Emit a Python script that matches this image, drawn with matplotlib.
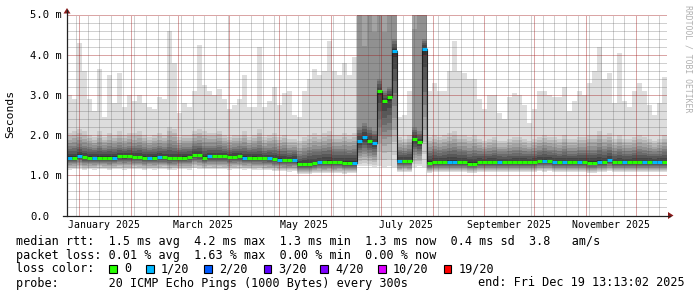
import numpy as np
import matplotlib
matplotlib.use("Agg")
import matplotlib.pyplot as plt
import matplotlib.dates as mdates
import matplotlib.transforms as mtransforms
from matplotlib.lines import Line2D
from matplotlib.patches import Polygon, Rectangle
from datetime import datetime, timedelta

# ---------------- data ----------------
period_start = datetime(2024, 12, 24, 13, 13, 2)
period_end = datetime(2025, 12, 19, 13, 13, 2)
bin_days = 3  # each value below covers 3 days

rtt_median = [
    1.44, 1.44, 1.49, 1.45, 1.44, 1.44, 1.44, 1.44, 1.44, 1.44,
    1.47, 1.47, 1.47, 1.46, 1.46, 1.44, 1.44, 1.44, 1.45, 1.45,
    1.42, 1.43, 1.44, 1.44, 1.45, 1.51, 1.50, 1.44, 1.47, 1.47,
    1.47, 1.47, 1.46, 1.46, 1.47, 1.44, 1.44, 1.44, 1.43, 1.42,
    1.42, 1.40, 1.39, 1.38, 1.38, 1.39, 1.27, 1.27, 1.28, 1.30,
    1.33, 1.33, 1.34, 1.33, 1.33, 1.31, 1.31, 1.31, 1.85, 1.95,
    1.85, 1.80, 3.10, 2.85, 2.95, 4.10, 1.35, 1.36, 1.35, 1.90,
    1.82, 4.15, 1.31, 1.33, 1.33, 1.33, 1.33, 1.33, 1.33, 1.33,
    1.29, 1.29, 1.33, 1.33, 1.33, 1.33, 1.33, 1.32, 1.32, 1.32,
    1.33, 1.33, 1.33, 1.33, 1.36, 1.36, 1.36, 1.33, 1.33, 1.33,
    1.33, 1.33, 1.33, 1.33, 1.31, 1.31, 1.33, 1.33, 1.37, 1.32,
    1.32, 1.32, 1.32, 1.33, 1.33, 1.33, 1.33, 1.33, 1.33, 1.33,
]

rtt_min = [
    1.14, 1.15, 1.16, 1.13, 1.15, 1.14, 1.16, 1.15, 1.13, 1.15,
    1.16, 1.14, 1.15, 1.16, 1.15, 1.13, 1.15, 1.14, 1.15, 1.16,
    1.13, 1.14, 1.15, 1.15, 1.14, 1.18, 1.16, 1.15, 1.16, 1.15,
    1.16, 1.15, 1.14, 1.15, 1.16, 1.14, 1.15, 1.13, 1.14, 1.13,
    1.12, 1.11, 1.10, 1.10, 1.09, 1.10, 1.02, 1.02, 1.03, 1.05,
    1.06, 1.05, 1.06, 1.05, 1.06, 1.04, 1.05, 1.05, 1.22, 1.24,
    1.22, 1.20, 1.22, 1.20, 1.22, 1.21, 1.08, 1.09, 1.08, 1.20,
    1.22, 1.21, 1.06, 1.08, 1.07, 1.08, 1.07, 1.08, 1.08, 1.07,
    1.05, 1.05, 1.08, 1.07, 1.08, 1.08, 1.07, 1.08, 1.07, 1.08,
    1.08, 1.07, 1.08, 1.08, 1.10, 1.09, 1.10, 1.08, 1.07, 1.08,
    1.08, 1.07, 1.08, 1.08, 1.06, 1.06, 1.08, 1.07, 1.10, 1.07,
    1.07, 1.08, 1.07, 1.08, 1.08, 1.07, 1.08, 1.07, 1.08, 1.08,
]

rtt_p75 = [
    1.72, 1.74, 1.78, 1.73, 1.70, 1.68, 1.74, 1.69, 1.72, 1.70,
    1.75, 1.71, 1.74, 1.73, 1.75, 1.70, 1.68, 1.70, 1.73, 1.71,
    1.78, 1.76, 1.68, 1.70, 1.71, 1.78, 1.80, 1.74, 1.74, 1.74,
    1.76, 1.72, 1.69, 1.71, 1.72, 1.74, 1.68, 1.70, 1.76, 1.67,
    1.69, 1.70, 1.65, 1.67, 1.62, 1.63, 1.53, 1.58, 1.62, 1.65,
    1.65, 1.67, 1.70, 1.65, 1.65, 1.66, 1.64, 1.66, 2.20, 2.30,
    2.20, 2.10, 3.40, 3.10, 3.20, 4.40, 1.63, 1.61, 1.66, 2.20,
    2.10, 4.40, 1.61, 1.65, 1.62, 1.65, 1.68, 1.70, 1.65, 1.64,
    1.60, 1.63, 1.60, 1.58, 1.60, 1.63, 1.58, 1.58, 1.60, 1.62,
    1.62, 1.60, 1.58, 1.60, 1.64, 1.67, 1.64, 1.63, 1.60, 1.65,
    1.60, 1.60, 1.63, 1.63, 1.64, 1.64, 1.70, 1.65, 1.70, 1.60,
    1.65, 1.60, 1.60, 1.63, 1.65, 1.63, 1.60, 1.58, 1.60, 1.65,
]

rtt_p95 = [
    2.05, 2.10, 2.15, 2.10, 2.00, 1.95, 2.10, 1.95, 2.05, 2.00,
    2.10, 2.00, 2.05, 2.05, 2.10, 2.00, 1.95, 2.00, 2.05, 2.00,
    2.20, 2.15, 1.95, 2.00, 2.00, 2.10, 2.15, 2.10, 2.05, 2.05,
    2.10, 2.00, 1.95, 2.00, 2.00, 2.10, 1.95, 2.00, 2.15, 1.95,
    2.00, 2.05, 1.95, 2.00, 1.90, 1.90, 1.85, 1.95, 2.00, 2.05,
    2.00, 2.05, 2.10, 2.00, 2.00, 2.05, 2.00, 2.05, 14.0, 10.0,
    16.0, 12.0, 14.0, 9.00, 12.0, 16.0, 1.95, 1.90, 2.00, 12.0,
    15.0, 10.0, 1.95, 2.00, 1.95, 2.00, 2.05, 2.10, 2.00, 2.00,
    1.95, 2.00, 1.90, 1.85, 1.90, 1.95, 1.85, 1.85, 1.90, 1.95,
    1.95, 1.90, 1.85, 1.90, 1.95, 2.00, 1.95, 1.95, 1.90, 2.00,
    1.90, 1.90, 1.95, 1.95, 2.00, 2.00, 2.10, 2.00, 2.05, 1.90,
    2.00, 1.90, 1.90, 1.95, 2.00, 1.95, 1.90, 1.85, 1.90, 2.00,
]

rtt_max = [
    3.00, 2.90, 4.30, 3.60, 2.90, 2.60, 3.65, 2.45, 3.50, 2.80,
    3.55, 2.70, 3.00, 2.85, 3.00, 2.80, 2.70, 2.65, 2.95, 2.90,
    4.60, 3.80, 2.55, 2.80, 2.70, 3.10, 4.25, 3.25, 3.10, 3.00,
    3.15, 2.90, 2.65, 2.75, 2.90, 3.50, 2.70, 2.70, 4.20, 2.70,
    2.85, 3.20, 2.75, 3.05, 3.10, 2.50, 2.45, 3.10, 3.40, 3.65,
    3.50, 3.60, 4.35, 3.60, 3.50, 3.80, 3.50, 3.95, 20.0, 20.0,
    20.0, 20.0, 20.0, 20.0, 20.0, 20.0, 2.45, 2.50, 3.10, 20.0,
    20.0, 20.0, 3.10, 3.30, 3.10, 3.10, 3.60, 4.35, 3.60, 3.55,
    3.40, 3.40, 2.90, 2.65, 3.00, 3.00, 2.55, 2.40, 2.95, 3.05,
    3.00, 2.75, 2.30, 2.65, 3.10, 3.10, 3.00, 2.95, 2.95, 3.20,
    2.60, 2.85, 3.10, 3.00, 3.30, 3.60, 4.20, 3.40, 3.55, 2.80,
    4.05, 2.85, 2.70, 3.10, 3.30, 3.10, 2.75, 2.50, 2.80, 3.45,
]

loss_count = [
    1, 0, 1, 0, 0, 1, 0, 0, 0, 1,
    0, 0, 0, 0, 0, 0, 1, 0, 1, 0,
    0, 0, 0, 0, 0, 0, 0, 0, 1, 0,
    0, 0, 0, 0, 0, 1, 0, 0, 0, 0,
    1, 0, 1, 0, 0, 1, 0, 0, 0, 0,
    1, 0, 0, 0, 0, 0, 0, 1, 1, 1,
    0, 1, 0, 0, 0, 1, 1, 0, 0, 0,
    0, 1, 0, 0, 0, 0, 1, 1, 0, 0,
    0, 0, 0, 0, 0, 0, 1, 0, 0, 0,
    0, 0, 0, 0, 0, 1, 0, 1, 0, 1,
    0, 0, 1, 0, 0, 0, 1, 0, 1, 0,
    0, 1, 0, 0, 0, 1, 0, 1, 1, 0,
]

loss_levels = [0, 1, 2, 3, 4, 10, 19]
loss_labels = ["0", "1/20", "2/20", "3/20", "4/20", "10/20", "19/20"]
loss_colors = ["#26ff00", "#00b8ff", "#0059ff", "#5e00ff", "#7e00ff", "#dd00ff", "#ff0000"]

ytick_values = [0.0, 1.0, 2.0, 3.0, 4.0, 5.0]
ytick_labels = ["0.0", "1.0 m", "2.0 m", "3.0 m", "4.0 m", "5.0 m"]
month_labels = ["January 2025", "March 2025", "May 2025", "July 2025",
                "September 2025", "November 2025"]
month_label_starts = [datetime(2025, 1, 1), datetime(2025, 3, 1), datetime(2025, 5, 1),
                      datetime(2025, 7, 1), datetime(2025, 9, 1), datetime(2025, 11, 1)]

legend_rtt = "median rtt:  1.5 ms avg  4.2 ms max  1.3 ms min  1.3 ms now  0.4 ms sd  3.8   am/s"
legend_loss = "packet loss: 0.01 % avg  1.63 % max  0.00 % min  0.00 % now"
legend_probe = "probe:       20 ICMP Echo Pings (1000 Bytes) every 300s"
legend_end = "end: Fri Dec 19 13:13:02 2025"

# ---------------- layout helpers ----------------
W, H = 697, 297
fig = plt.figure(figsize=(W / 100, H / 100), dpi=100)
fig.patch.set_facecolor("white")


def fx(px):
    return px / W


def fy(py):
    return 1 - py / H


X0, X1, YTOP, YBOT = 67, 667, 14.5, 215.5
ax = fig.add_axes([fx(X0), fy(YBOT), (X1 - X0) / W, (YBOT - YTOP) / H])
ax.set_facecolor("white")
for s in ax.spines.values():
    s.set_visible(False)
ax.set_xticks([])
ax.set_yticks([])

t0 = mdates.date2num(period_start)
t1 = mdates.date2num(period_end)
ax.set_xlim(t0, t1)
ax.set_ylim(0, 5.0)

med = np.array(rtt_median)
lo = np.array(rtt_min)
q75 = np.array(rtt_p75)
q95 = np.array(rtt_p95)
mx = np.array(rtt_max)
n = len(med)
edges = t0 + bin_days * np.arange(n + 1)


def ext(a):
    return np.append(a, a[-1])


# sorted ping levels (rank 1..20) anchored on min, median, p75, p95, max
def rank_level(r):
    if r <= 10:
        return lo + (med - lo) * (r - 1) / 9.5
    if r <= 15:
        return med + (q75 - med) * (r - 10.5) / 4.5
    if r <= 19:
        return q75 + (q95 - q75) * (r - 15) / 4.0
    return mx


# smoke bands (smokeping style, lightest outside, darkest around median)
for i in range(1, 11):
    bot = rank_level(i)
    top = rank_level(21 - i)
    g = int(190 / 10 * (10 - i)) + 50
    col = "#%02x%02x%02x" % (g, g, g)
    ax.fill_between(edges, ext(bot), ext(top), step="post", color=col,
                    lw=0, antialiased=False, zorder=1 + i * 0.01)

# grid (dotted, drawn over the smoke)
dash = (0, (1, 1))
minor_col = (0.35, 0.35, 0.35, 0.28)
major_col = (0.62, 0.08, 0.08, 0.38)
for k in range(1, 26):
    if k % 5 == 0:
        continue
    ax.axhline(k * 0.2, color=minor_col, lw=0.72, ls=dash, zorder=3,
               antialiased=False)
d = datetime(2024, 12, 30)
while d < period_end:
    if d.day != 1:
        ax.axvline(mdates.date2num(d), color=minor_col, lw=0.72, ls=dash, zorder=3,
                   antialiased=False)
    d += timedelta(days=7)
for yv in ytick_values[1:]:
    ax.axhline(yv, color=major_col, lw=0.72, ls=dash, zorder=3.1, antialiased=False)
for m in range(1, 13):
    ax.axvline(mdates.date2num(datetime(2025, m, 1)), color=major_col, lw=0.72,
               ls=dash, zorder=3.1, antialiased=False)

# median line
ax.step(edges, ext(med), where="post", color="#202020", lw=0.8, zorder=4)


def loss_color(c):
    for lvl, colr in zip(loss_levels, loss_colors):
        if c <= lvl:
            return colr
    return loss_colors[-1]


for k in range(n):
    ax.hlines(med[k], edges[k], edges[k + 1], color=loss_color(loss_count[k]),
              lw=2.2, zorder=5, capstyle="butt")

# axes lines and arrows
axis_col = "#222222"
fig.add_artist(Line2D([fx(X0), fx(X0)], [fy(216), fy(10)], color=axis_col, lw=0.9))
fig.add_artist(Line2D([fx(63), fx(670)], [fy(215.5), fy(215.5)], color=axis_col, lw=0.9))
arrow_col = "#8b1a1a"
fig.add_artist(Polygon([[fx(63.5), fy(13.5)], [fx(70.5), fy(13.5)], [fx(67), fy(8)]],
                       closed=True, color=arrow_col, lw=0))
fig.add_artist(Polygon([[fx(668), fy(212)], [fx(668), fy(219)], [fx(673.5), fy(215.5)]],
                       closed=True, color=arrow_col, lw=0))

mono = "DejaVu Sans Mono"
# y tick labels
for yv, lab in zip(ytick_values, ytick_labels):
    py = YBOT - (YBOT - YTOP) * yv / 5.0
    fig.text(fx(30), fy(py + 1), lab, family=mono, fontsize=7.6, ha="left", va="center")

# x labels (centered half a month after month start)
trans = mtransforms.blended_transform_factory(ax.transData, fig.transFigure)
for lab, ms in zip(month_labels, month_label_starts):
    xc = mdates.date2num(ms + timedelta(days=15))
    ax.text(xc, fy(225), lab, transform=trans, family=mono, fontsize=7.1,
            ha="center", va="center", clip_on=False)

# axis title
fig.text(fx(10.5), fy(114), "Seconds", family=mono, fontsize=8.2, rotation=90,
         ha="center", va="center")
# watermark
fig.text(fx(688), fy(59), "RRDTOOL / TOBI OETIKER", family=mono, fontsize=5.9,
         rotation=-90, ha="center", va="center", color="#b0b0b0")

# legend
lf = 8.45
fig.text(fx(16), fy(241), legend_rtt, family=mono, fontsize=lf, ha="left", va="center")
fig.text(fx(16), fy(255.5), legend_loss, family=mono, fontsize=lf, ha="left", va="center")
fig.text(fx(16), fy(269), "loss color:", family=mono, fontsize=lf, ha="left", va="center")
box_x = [109, 146, 204, 263.5, 320, 378, 443.5]
for bx, lab, colr in zip(box_x, loss_labels, loss_colors):
    fig.add_artist(Rectangle((fx(bx), fy(273)), 7.5 / W, 8 / H, facecolor=colr,
                             edgecolor="black", lw=0.8))
    fig.text(fx(bx + 15), fy(269), lab, family=mono, fontsize=lf, ha="left", va="center")
fig.text(fx(16), fy(283), legend_probe, family=mono, fontsize=lf, ha="left", va="center")
fig.text(fx(478), fy(283), legend_end, family=mono, fontsize=lf, ha="left", va="center")

fig.savefig("out.png", dpi=100, facecolor="white")
